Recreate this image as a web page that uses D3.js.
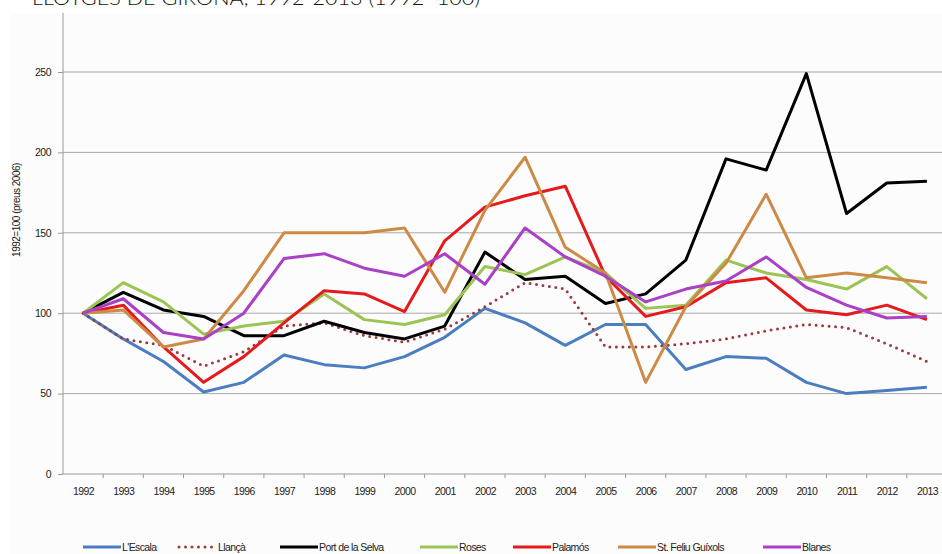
<!DOCTYPE html>
<html>
<head>
<meta charset="utf-8">
<script src="https://cdn.jsdelivr.net/npm/d3@7"></script>
<style>
  body { margin: 0; background: #fff; }
  svg { display: block; }
  text { font-family: "Liberation Sans", Arial, sans-serif; }
</style>
</head>
<body>
<div id="chart"></div>
<script>
const years = ['1992','1993','1994','1995','1996','1997','1998','1999','2000','2001','2002',
  '2003','2004','2005','2006','2007','2008','2009','2010','2011','2012','2013'];

const lescala   = [100, 84, 70, 51, 57, 74, 68, 66, 73, 85, 103, 94, 80, 93, 93, 65, 73, 72, 57, 50, 52, 54];
const llanca    = [100, 84, 80, 67, 76, 92, 94, 86, 82, 90, 104, 119, 115, 79, 79, 81, 84, 89, 93, 91, 81, 70];
const portSelva = [100, 113, 102, 98, 86, 86, 95, 88, 84, 92, 138, 121, 123, 106, 112, 133, 196, 189, 249, 162, 181, 182];
const roses     = [100, 119, 107, 87, 92, 95, 112, 96, 93, 99, 129, 124, 135, 125, 103, 105, 133, 125, 121, 115, 129, 109];
const palamos   = [100, 105, 79, 57, 73, 94, 114, 112, 101, 145, 166, 173, 179, 123, 98, 104, 119, 122, 102, 99, 105, 96];
const stFeliu   = [100, 102, 79, 84, 114, 150, 150, 150, 153, 113, 164, 197, 141, 125, 57, 104, 131, 174, 122, 125, 122, 119];
const blanes    = [100, 109, 88, 84, 100, 134, 137, 128, 123, 137, 118, 153, 135, 123, 107, 115, 120, 135, 116, 105, 97, 98];

const yTicks = [0, 50, 100, 150, 200, 250];

const series = [
  { name: "L'Escala", values: lescala, color: '#4a7ec0', dotted: false, lx: 83 },
  { name: 'Llançà', values: llanca, color: '#9b3b3f', dotted: true, lx: 179 },
  { name: 'Port de la Selva', values: portSelva, color: '#000000', dotted: false, lx: 280 },
  { name: 'Roses', values: roses, color: '#9cc454', dotted: false, lx: 420 },
  { name: 'Palamós', values: palamos, color: '#e41a1c', dotted: false, lx: 513 },
  { name: 'St. Feliu Guíxols', values: stFeliu, color: '#cc8a45', dotted: false, lx: 618 },
  { name: 'Blanes', values: blanes, color: '#a940c6', dotted: false, lx: 763 }
];

const width = 942, height = 554;
const svg = d3.select('#chart').append('svg')
  .attr('width', width)
  .attr('height', height);

// plot area
const plotLeft = 63, plotRight = 947, plotTop = 13, plotBottom = 474;

svg.append('rect')
  .attr('x', 10).attr('y', plotTop)
  .attr('width', width - 10).attr('height', height - plotTop)
  .attr('fill', '#fcfcfc');

const x = d3.scalePoint()
  .domain(years)
  .range([plotLeft, plotRight])
  .padding(0.5);

const y = d3.scaleLinear()
  .domain([0, 250])
  .range([plotBottom, 72]);

// title (cut off at the top in the original)
svg.append('text')
  .attr('x', 32).attr('y', 5)
  .attr('textLength', 448)
  .attr('lengthAdjust', 'spacingAndGlyphs')
  .style('font-family', 'Lato, "DejaVu Sans", sans-serif')
  .style('font-weight', 300)
  .style('font-size', '20px')
  .attr('fill', '#111')
  .text('LLOTGES DE GIRONA, 1992-2013 (1992=100)');

// gridlines
svg.append('g')
  .selectAll('line')
  .data(yTicks.filter(d => d > 0))
  .join('line')
  .attr('x1', plotLeft).attr('x2', width)
  .attr('y1', d => y(d)).attr('y2', d => y(d))
  .attr('stroke', '#a8a8a8')
  .attr('stroke-width', 1);

// y axis
const yAxis = svg.append('g')
  .attr('transform', `translate(${plotLeft},0)`)
  .call(d3.axisLeft(y).tickValues(yTicks).tickSize(5).tickSizeOuter(0));
yAxis.select('.domain').remove();
yAxis.selectAll('line').attr('stroke', '#999');
yAxis.selectAll('text')
  .attr('x', -12)
  .attr('fill', '#222')
  .style('font-size', '10.5px')
  .style('letter-spacing', '-0.5px');
svg.append('line')
  .attr('x1', plotLeft).attr('x2', plotLeft)
  .attr('y1', plotTop).attr('y2', plotBottom)
  .attr('stroke', '#999');

// x axis
const step = x.step();
const xAxis = svg.append('g')
  .attr('transform', `translate(0,${plotBottom})`)
  .call(d3.axisBottom(x).tickSize(0).tickPadding(14));
xAxis.select('.domain').remove();
xAxis.selectAll('text')
  .attr('fill', '#222')
  .style('font-size', '10.5px')
  .style('letter-spacing', '-0.6px');
svg.append('line')
  .attr('x1', plotLeft).attr('x2', width)
  .attr('y1', plotBottom).attr('y2', plotBottom)
  .attr('stroke', '#999');
svg.append('g')
  .selectAll('line')
  .data(years)
  .join('line')
  .attr('x1', d => x(d) + step / 2).attr('x2', d => x(d) + step / 2)
  .attr('y1', plotBottom).attr('y2', plotBottom + 4)
  .attr('stroke', '#999');

// y axis title
svg.append('text')
  .attr('transform', 'translate(20,210) rotate(-90)')
  .attr('text-anchor', 'middle')
  .attr('fill', '#222')
  .style('font-size', '10px')
  .style('letter-spacing', '-0.5px')
  .text('1992=100 (preus 2006)');

// lines
const line = d3.line()
  .x((d, i) => x(years[i]))
  .y(d => y(d));

svg.append('g')
  .selectAll('path')
  .data(series)
  .join('path')
  .attr('d', d => line(d.values))
  .attr('fill', 'none')
  .attr('stroke', d => d.color)
  .attr('stroke-width', 3)
  .attr('stroke-linejoin', 'round')
  .attr('stroke-linecap', d => d.dotted ? 'round' : 'butt')
  .attr('stroke-dasharray', d => d.dotted ? '0,6.5' : null);

// legend
const ly = 547;
const legend = svg.append('g')
  .selectAll('g')
  .data(series)
  .join('g');
legend.append('line')
  .attr('x1', d => d.lx).attr('x2', d => d.lx + 38)
  .attr('y1', ly).attr('y2', ly)
  .attr('stroke', d => d.color)
  .attr('stroke-width', 3)
  .attr('stroke-linecap', d => d.dotted ? 'round' : 'butt')
  .attr('stroke-dasharray', d => d.dotted ? '0,6.5' : null);
legend.append('text')
  .attr('x', d => d.lx + 39)
  .attr('y', ly + 4)
  .attr('fill', '#222')
  .style('font-size', '10.5px')
  .style('letter-spacing', '-0.6px')
  .text(d => d.name);
</script>
</body>
</html>
